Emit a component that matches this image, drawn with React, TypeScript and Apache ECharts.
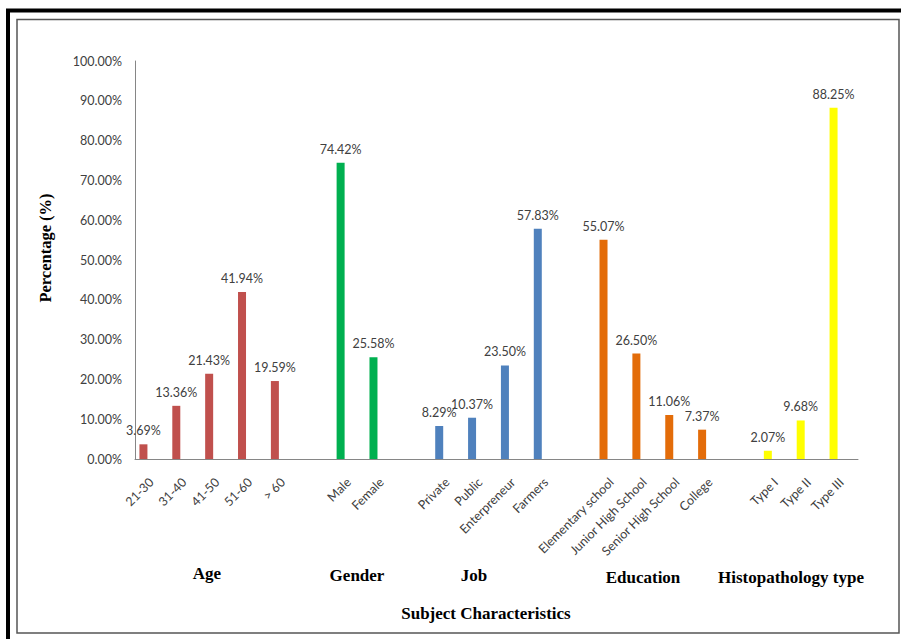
import React, { useEffect, useRef } from "react";
import * as echarts from "echarts";

// Subject characteristics, percentage of subjects per category
const ageLabels = ["21-30", "31-40", "41-50", "51-60", "> 60"];
const ageValues = [3.69, 13.36, 21.43, 41.94, 19.59];

const genderLabels = ["Male", "Female"];
const genderValues = [74.42, 25.58];

const jobLabels = ["Private", "Public", "Enterpreneur", "Farmers"];
const jobValues = [8.29, 10.37, 23.5, 57.83];

const educationLabels = ["Elementary school", "Junior High School", "Senior High School", "College"];
const educationValues = [55.07, 26.5, 11.06, 7.37];

const histoLabels = ["Type I", "Type II", "Type III"];
const histoValues = [2.07, 9.68, 88.25];

const groupNames = ["Age", "Gender", "Job", "Education", "Histopathology type"];
const yTicks = [0, 10, 20, 30, 40, 50, 60, 70, 80, 90, 100];

const groups = [
  { name: groupNames[0], labels: ageLabels, values: ageValues, color: "#C0504D" },
  { name: groupNames[1], labels: genderLabels, values: genderValues, color: "#00B050" },
  { name: groupNames[2], labels: jobLabels, values: jobValues, color: "#4F81BD" },
  { name: groupNames[3], labels: educationLabels, values: educationValues, color: "#E36C09" },
  { name: groupNames[4], labels: histoLabels, values: histoValues, color: "#FFFF00" },
];

const W = 901;
const H = 639;

export default function App() {
  const ref = useRef<HTMLDivElement>(null);

  useEffect(() => {
    if (!ref.current) return;
    const chart = echarts.init(ref.current, null, { renderer: "svg" });

    // one blank slot between consecutive groups
    const categories: string[] = [];
    const slots: number[][] = [];
    groups.forEach((g, gi) => {
      if (gi > 0) categories.push("");
      const idx: number[] = [];
      g.labels.forEach((l) => {
        idx.push(categories.length);
        categories.push(l);
      });
      slots.push(idx);
    });

    const numFont = "Lato, 'Liberation Sans', sans-serif";
    const serif = "'Liberation Serif', 'Times New Roman', serif";
    const numSize = 12.5;

    const barSeries: any[] = groups.map((g, gi) => {
      const data: (number | null)[] = categories.map(() => null);
      slots[gi].forEach((ci, k) => {
        data[ci] = g.values[k];
      });
      return {
        name: g.name,
        type: "bar",
        stack: "pct",
        barWidth: 8,
        barGap: "100%",
        data,
        itemStyle: { color: g.color },
        label: {
          show: true,
          position: "top",
          distance: 7,
          fontFamily: numFont,
          fontSize: numSize,
          color: "#404040",
          formatter: (p: any) => Number(p.value).toFixed(2) + "%",
        },
      };
    });
    // empty companion series, keeps each bar left of its category centre
    barSeries.push({
      name: "spacer",
      type: "bar",
      barWidth: 8,
      barGap: "100%",
      data: categories.map(() => null),
      silent: true,
    });

    const groupLabelPos = [
      { x: 207, y: 573 },
      { x: 357, y: 575 },
      { x: 474, y: 575 },
      { x: 643, y: 577 },
      { x: 791, y: 577 },
    ];

    chart.setOption({
      animation: false,
      backgroundColor: "#ffffff",
      grid: { left: 135, right: 43, top: 61, bottom: 180, containLabel: false },
      xAxis: {
        type: "category",
        data: categories,
        axisLine: { show: true, lineStyle: { color: "#868686", width: 1 } },
        axisTick: { show: false },
        axisLabel: {
          interval: 0,
          rotate: 45,
          margin: 21,
          fontFamily: numFont,
          fontSize: numSize,
          color: "#404040",
        },
        splitLine: { show: false },
      },
      yAxis: {
        type: "value",
        min: yTicks[0],
        max: yTicks[yTicks.length - 1],
        interval: yTicks[1] - yTicks[0],
        axisLine: { show: true, lineStyle: { color: "#868686", width: 1 } },
        axisTick: { show: false },
        splitLine: { show: false },
        axisLabel: {
          margin: 13,
          fontFamily: numFont,
          fontSize: numSize,
          color: "#404040",
          formatter: (v: number) => v.toFixed(2) + "%",
        },
      },
      series: barSeries,
      graphic: [
        {
          type: "rect",
          z: -1,
          shape: { x: 8, y: 10.5, width: W + 20, height: H + 20 },
          style: { fill: "none", stroke: "#000000", lineWidth: 4 },
        },
        {
          type: "rect",
          z: -1,
          shape: { x: 17, y: 19.5, width: 882, height: 613.5 },
          style: { fill: "none", stroke: "#555555", lineWidth: 1.5 },
        },
        {
          type: "text",
          x: 45,
          y: 248,
          rotation: Math.PI / 2,
          style: {
            text: "Percentage (%)",
            font: `bold 16.5px ${serif}`,
            fill: "#000000",
            align: "center",
            verticalAlign: "middle",
          },
        },
        ...groupNames.map((n, i) => ({
          type: "text",
          x: groupLabelPos[i].x,
          y: groupLabelPos[i].y,
          style: {
            text: n,
            font: `bold 17px ${serif}`,
            fill: "#000000",
            align: "center",
            verticalAlign: "middle",
          },
        })),
        {
          type: "text",
          x: 486,
          y: 613,
          style: {
            text: "Subject Characteristics",
            font: `bold 17px ${serif}`,
            fill: "#000000",
            align: "center",
            verticalAlign: "middle",
          },
        },
      ],
    });

    return () => chart.dispose();
  }, []);

  return (
    <div
      ref={ref}
      style={{ position: "fixed", left: 0, top: 0, width: W, height: H, background: "#fff" }}
    />
  );
}
